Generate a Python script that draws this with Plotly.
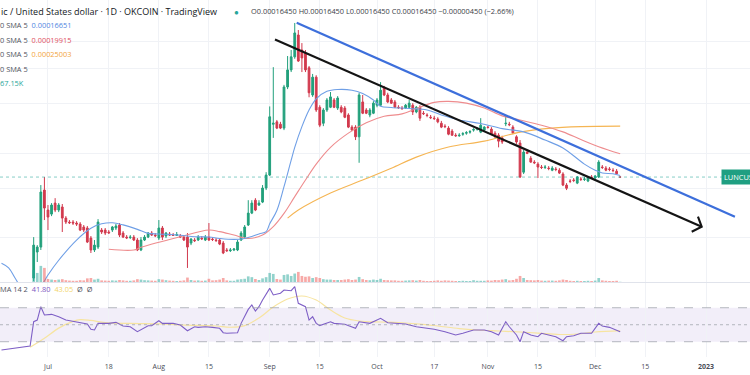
import plotly.graph_objects as go
import pandas as pd

UNIT = 1e-4  # price values below are written in units of 0.0001 USD
FONT = "Open Sans"

# ---------------- daily candles (2022-06-27 .. 2022-12-08) ----------------
candle_dates = pd.date_range("2022-06-27", "2022-12-08", freq="D").strftime("%Y-%m-%d").tolist()

opens = [
    0.717, 0.888, 0.925, 1.478,  # Jun 27-30
    1.254, 1.213, 1.328, 1.254, 1.286, 1.174, 1.136, 1.136, 1.127, 1.118,
    1.091, 1.082, 0.996, 0.903, 0.925, 1.064, 1.064, 1.047, 1.064, 1.082,
    1.109, 1.038, 1.004, 1.000, 1.004, 0.980, 0.903, 0.980, 1.004, 1.038, 1.021,  # Jul
    0.996, 1.082, 1.013, 1.030, 1.021, 1.018, 1.013, 1.004, 1.004, 0.956,
    0.980, 0.980, 0.996, 0.980, 1.004, 0.988, 0.980, 0.980, 0.956, 0.903,
    0.898, 0.903, 0.903, 0.980, 1.004, 1.109, 1.223, 1.360, 1.307, 1.339, 1.503,  # Aug
    1.672, 2.54, 2.59, 2.54, 2.46, 3.45, 3.97, 4.42, 5.29, 4.675,
    4.56, 4.04, 3.23, 3.74, 2.92, 2.56, 2.855, 2.92, 3.10, 2.90,
    2.92, 2.90, 2.74, 2.48, 2.48, 2.29, 3.05, 2.855, 2.74, 2.78,  # Sep
    2.97, 2.97, 3.42, 3.23, 3.10, 3.05, 2.92, 2.90, 2.90, 2.92,
    2.97, 2.81, 2.92, 2.78, 2.74, 2.69, 2.67, 2.65, 2.56, 2.50,
    2.46, 2.40, 2.32, 2.31, 2.34, 2.36, 2.38, 2.42, 2.44, 2.38, 2.42,  # Oct
    2.48, 2.44, 2.36, 2.32, 2.27, 2.55, 2.54, 2.48, 2.29, 2.175,
    1.712, 2.02, 1.92, 1.86, 1.83, 1.786, 1.78, 1.77, 1.74, 1.757,
    1.74, 1.686, 1.54, 1.592, 1.605, 1.565, 1.618, 1.614, 1.592, 1.645,  # Nov
    1.632, 1.645, 1.786, 1.77, 1.757, 1.74, 1.726, 1.645,  # Dec 1-8
]
highs = [
    1.004, 0.940, 1.54, 1.645,
    1.307, 1.328, 1.383, 1.328, 1.318, 1.193, 1.155, 1.155, 1.145, 1.136,
    1.109, 1.100, 1.013, 0.980, 1.164, 1.082, 1.082, 1.064, 1.100, 1.118,
    1.127, 1.055, 1.021, 1.021, 1.021, 0.996, 1.004, 1.021, 1.047, 1.055, 1.038,
    1.155, 1.100, 1.047, 1.047, 1.038, 1.047, 1.030, 1.021, 1.038, 0.996,
    0.996, 1.021, 1.013, 1.021, 1.127, 1.004, 0.996, 0.996, 0.972, 0.918,
    0.918, 0.918, 0.980, 1.055, 1.109, 1.360, 1.360, 1.383, 1.360, 1.540, 1.712,
    2.94, 4.06, 2.63, 2.59, 3.51, 4.45, 4.675, 5.84, 5.51, 4.95,
    4.675, 4.10, 3.84, 3.80, 2.97, 2.90, 3.15, 3.31, 3.15, 3.20,
    2.97, 2.95, 2.78, 2.52, 2.52, 3.29, 3.23, 2.90, 2.90, 3.07,
    3.15, 3.59, 3.48, 3.29, 3.15, 3.10, 2.97, 2.95, 3.00, 3.10,
    3.02, 2.95, 2.97, 2.83, 2.78, 2.74, 2.72, 2.69, 2.61, 2.54,
    2.50, 2.44, 2.36, 2.36, 2.38, 2.40, 2.42, 2.46, 2.48, 2.67, 2.50,
    2.50, 2.48, 2.40, 2.36, 2.31, 2.74, 2.59, 2.52, 2.32, 2.23,
    2.055, 2.055, 1.955, 1.89, 1.86, 1.816, 1.816, 1.80, 1.80, 1.786,
    1.77, 1.712, 1.565, 1.618, 1.632, 1.659, 1.645, 1.645, 1.659, 1.672,
    1.672, 1.89, 1.816, 1.80, 1.786, 1.77, 1.757, 1.645,
]
lows = [
    0.699, 0.818, 0.903, 1.155,
    1.064, 1.193, 1.233, 1.233, 1.047, 1.118, 1.118, 1.109, 1.100, 1.055,
    1.047, 0.956, 0.881, 0.888, 0.910, 1.030, 1.021, 1.030, 1.047, 1.064,
    1.004, 0.996, 0.988, 0.988, 0.972, 0.895, 0.895, 0.972, 0.996, 1.013, 1.004,
    0.980, 0.980, 0.996, 1.013, 1.013, 1.013, 0.996, 0.972, 0.779, 0.940,
    0.964, 0.972, 0.980, 0.972, 0.972, 0.972, 0.964, 0.940, 0.873, 0.888,
    0.888, 0.895, 0.895, 0.972, 0.996, 1.100, 1.213, 1.243, 1.297, 1.328, 1.478,
    1.659, 2.27, 2.44, 2.44, 2.42, 3.39, 3.90, 4.35, 4.24, 3.90,
    3.90, 3.17, 3.18, 2.81, 2.48, 2.50, 2.81, 2.90, 2.90, 2.855,
    2.78, 2.67, 2.46, 2.40, 2.23, 1.85, 2.76, 2.76, 2.69, 2.76,
    2.92, 2.95, 3.20, 3.02, 3.00, 2.90, 2.88, 2.855, 2.88, 2.90,
    2.74, 2.78, 2.61, 2.74, 2.69, 2.65, 2.63, 2.56, 2.46, 2.46,
    2.32, 2.31, 2.29, 2.29, 2.31, 2.33, 2.35, 2.39, 2.41, 2.36, 2.40,
    2.45, 2.32, 2.27, 2.10, 2.16, 2.50, 2.50, 2.34, 2.16, 1.632,
    1.686, 1.986, 1.85, 1.83, 1.632, 1.757, 1.757, 1.74, 1.726, 1.726,
    1.686, 1.527, 1.478, 1.565, 1.578, 1.552, 1.592, 1.592, 1.578, 1.618,
    1.618, 1.632, 1.757, 1.726, 1.726, 1.712, 1.686, 1.645,
]
closes = [
    0.940, 0.925, 1.454, 1.275,
    1.184, 1.307, 1.254, 1.307, 1.174, 1.136, 1.130, 1.127, 1.118, 1.064,
    1.064, 0.964, 0.903, 0.940, 1.136, 1.047, 1.038, 1.040, 1.091, 1.100,
    1.021, 1.004, 0.998, 1.004, 0.980, 0.903, 0.980, 1.004, 1.038, 1.021, 1.015,
    1.082, 1.004, 1.038, 1.021, 1.018, 1.025, 1.004, 0.980, 0.925, 0.988,
    0.975, 1.004, 0.990, 1.004, 0.980, 0.984, 0.976, 0.948, 0.881, 0.898,
    0.903, 0.910, 0.964, 1.038, 1.091, 1.223, 1.328, 1.254, 1.328, 1.503, 1.672,
    2.70, 2.56, 2.46, 2.46, 3.45, 3.97, 4.42, 5.38, 4.27, 4.38,
    3.97, 3.29, 3.74, 2.855, 2.52, 2.855, 3.10, 3.18, 2.92, 3.15,
    2.81, 2.69, 2.48, 2.42, 2.29, 3.23, 2.78, 2.78, 2.855, 3.02,
    3.10, 3.36, 3.23, 3.05, 3.02, 2.92, 2.91, 2.89, 2.97, 3.02,
    2.81, 2.92, 2.67, 2.77, 2.73, 2.68, 2.66, 2.59, 2.48, 2.49,
    2.34, 2.32, 2.31, 2.32, 2.35, 2.37, 2.39, 2.43, 2.445, 2.52, 2.48,
    2.475, 2.34, 2.29, 2.21, 2.195, 2.56, 2.53, 2.36, 2.195, 1.645,
    2.02, 2.00, 1.86, 1.85, 1.786, 1.78, 1.786, 1.765, 1.77, 1.75,
    1.70, 1.54, 1.50, 1.588, 1.60, 1.645, 1.614, 1.618, 1.645, 1.64,
    1.659, 1.86, 1.78, 1.74, 1.752, 1.735, 1.69, 1.645,
]
volumes = [
    60, 45, 80, 70,
    15, 12, 10, 12, 14, 9, 7, 6, 6, 9, 8, 18, 20, 12, 16, 8, 7, 6, 8, 7, 10, 8, 6, 6, 8, 14, 12, 9, 8, 7, 6,
    14, 12, 9, 7, 6, 5, 6, 8, 22, 10, 7, 8, 6, 7, 16, 8, 9, 12, 20, 8, 6, 6, 12, 14, 16, 28, 24, 15, 10, 18, 24,
    45, 40, 15, 12, 35, 38, 30, 42, 50, 30, 26, 28, 20, 24, 20, 14, 12, 12, 10, 10, 10, 12, 14, 10, 12, 25, 14, 10, 9, 12,
    10, 16, 10, 9, 8, 8, 6, 6, 7, 8, 9, 7, 10, 6, 5, 5, 6, 8, 6, 8, 7, 6, 5, 5, 6, 5, 5, 9, 6, 6, 6,
    8, 7, 10, 9, 12, 14, 8, 10, 16, 30, 20, 10, 9, 8, 10, 7, 6, 7, 7, 6, 8, 12, 10, 6, 5, 6, 5, 5, 6, 5,
    7, 20, 8, 6, 5, 5, 6, 1,
]
for arr in (opens, highs, lows, closes, volumes):
    assert len(arr) == len(candle_dates), len(arr)

# ---------------- moving averages ----------------
sma_blue_dates = ["2022-06-18", "2022-06-20", "2022-06-22", "2022-06-26", "2022-06-30", "2022-07-01", "2022-07-04",
                  "2022-07-09", "2022-07-13", "2022-07-16", "2022-07-19", "2022-07-22", "2022-07-26", "2022-07-29",
                  "2022-08-01", "2022-08-07", "2022-08-11", "2022-08-15", "2022-08-18", "2022-08-22", "2022-08-25",
                  "2022-08-29", "2022-08-31", "2022-09-01", "2022-09-03", "2022-09-05", "2022-09-07", "2022-09-08",
                  "2022-09-10", "2022-09-12", "2022-09-14", "2022-09-17", "2022-09-20", "2022-09-24", "2022-09-27",
                  "2022-09-30", "2022-10-02", "2022-10-05", "2022-10-10", "2022-10-15", "2022-10-19", "2022-10-24",
                  "2022-10-30", "2022-11-05", "2022-11-11", "2022-11-17", "2022-11-22", "2022-11-28", "2022-12-01",
                  "2022-12-03", "2022-12-06", "2022-12-08"]
sma_blue = [0.81, 0.78, 0.71, 0.60, 0.70, 0.735, 0.83, 0.98, 1.08, 1.12, 1.13, 1.11, 1.07, 1.035, 1.03, 1.02,
            1.007, 1.005, 0.993, 0.985, 0.993, 1.03, 1.05, 1.12, 1.25, 1.52, 1.89, 2.10, 2.49, 2.855, 3.13, 3.33,
            3.38, 3.36, 3.27, 3.10, 2.945, 2.915, 2.89, 2.855, 2.74, 2.63, 2.555, 2.45, 2.385, 2.23, 2.09, 1.83,
            1.74, 1.70, 1.69, 1.6651]

sma_red_dates = ["2022-07-18", "2022-07-25", "2022-07-27", "2022-08-07", "2022-08-15", "2022-08-18", "2022-08-22",
                 "2022-08-26", "2022-08-30", "2022-09-02", "2022-09-05", "2022-09-08", "2022-09-11", "2022-09-14",
                 "2022-09-18", "2022-09-23", "2022-09-28", "2022-10-03", "2022-10-08", "2022-10-12", "2022-10-17",
                 "2022-10-21", "2022-10-26", "2022-10-31", "2022-11-05", "2022-11-10", "2022-11-16", "2022-11-22",
                 "2022-11-27", "2022-12-02", "2022-12-08"]
sma_red = [0.908, 0.903, 0.923, 1.007, 1.064, 1.05, 1.021, 0.993, 1.021, 1.094, 1.22, 1.40, 1.605, 1.83, 2.10,
           2.36, 2.57, 2.71, 2.765, 2.89, 3.04, 3.065, 3.02, 2.90, 2.72, 2.63, 2.52, 2.385, 2.24, 2.11, 1.9915]

sma_orange_dates = ["2022-09-06", "2022-09-09", "2022-09-18", "2022-09-27", "2022-10-05", "2022-10-12",
                    "2022-10-21", "2022-10-31", "2022-11-10", "2022-11-18", "2022-11-27", "2022-12-08"]
sma_orange = [1.173, 1.254, 1.442, 1.605, 1.769, 1.938, 2.105, 2.21, 2.38, 2.455, 2.49, 2.5003]

# ---------------- drawn trend lines ----------------
trend_blue_dates = ["2022-09-08 13:00", "2023-01-09 02:00"]
trend_blue = [5.85, 1.187]
trend_black_dates = ["2022-09-02 11:30", "2022-12-30 19:00"]
trend_black = [5.10, 1.093]
arrow_dates = ["2022-12-29 18:00", "2022-12-30 19:00", "2022-12-28 00:00"]
arrow_prices = [1.187, 1.093, 1.049]

last_price = 1.645

# ---------------- RSI pane ----------------
rsi_dates = ["2022-06-18", "2022-06-22", "2022-06-26", "2022-06-27", "2022-06-28", "2022-06-29", "2022-06-30",
             "2022-07-02", "2022-07-04", "2022-07-06", "2022-07-09", "2022-07-12", "2022-07-13", "2022-07-14",
             "2022-07-15", "2022-07-18", "2022-07-20", "2022-07-22", "2022-07-24", "2022-07-26", "2022-07-29",
             "2022-07-30", "2022-08-01", "2022-08-02", "2022-08-05", "2022-08-07", "2022-08-09", "2022-08-11",
             "2022-08-12", "2022-08-14", "2022-08-16", "2022-08-18", "2022-08-19", "2022-08-20", "2022-08-23",
             "2022-08-24", "2022-08-26", "2022-08-27", "2022-08-28", "2022-08-29", "2022-08-30", "2022-09-01",
             "2022-09-02", "2022-09-04", "2022-09-05", "2022-09-07", "2022-09-08", "2022-09-09", "2022-09-11",
             "2022-09-12", "2022-09-13", "2022-09-14", "2022-09-15", "2022-09-18", "2022-09-19", "2022-09-22",
             "2022-09-25", "2022-09-26", "2022-09-29", "2022-10-02", "2022-10-04", "2022-10-07", "2022-10-09",
             "2022-10-12", "2022-10-15", "2022-10-17", "2022-10-20", "2022-10-23", "2022-10-25", "2022-10-28",
             "2022-10-31", "2022-11-02", "2022-11-04", "2022-11-06", "2022-11-07", "2022-11-09", "2022-11-10",
             "2022-11-11", "2022-11-13", "2022-11-15", "2022-11-16", "2022-11-18", "2022-11-20", "2022-11-22",
             "2022-11-23", "2022-11-25", "2022-11-27", "2022-11-30", "2022-12-02", "2022-12-03", "2022-12-05",
             "2022-12-08"]
rsi = [20.2, 22.5, 24.9, 53.5, 55.5, 71.2, 61.4, 62.2, 59.4, 55.5, 53.5, 50.8, 44.6, 43.8, 51.6, 51.6, 52.8,
       48.5, 47.6, 41.8, 48.8, 48.8, 54.7, 51.6, 51.6, 49.6, 42.9, 47.6, 46.9, 47.6, 46.9, 45.8, 40.6, 39.9,
       40.5, 51.6, 68.0, 73.2, 66.0, 71.2, 79.0, 92.8, 85.0, 87.0, 90.8, 90.0, 94.7, 75.2, 71.2, 55.5, 59.4,
       51.6, 49.0, 53.5, 51.6, 50.5, 45.8, 53.5, 51.6, 57.5, 52.4, 51.6, 50.8, 47.6, 45.8, 44.6, 41.8, 37.9,
       39.9, 43.8, 43.8, 41.8, 37.9, 53.5, 47.6, 37.9, 30.0, 41.8, 37.9, 35.9, 39.9, 37.9, 35.9, 31.2, 35.9,
       37.1, 39.9, 39.9, 51.6, 48.5, 46.9, 41.8]
rsi_ma_dates = ["2022-06-26", "2022-06-30", "2022-07-04", "2022-07-08", "2022-07-10", "2022-07-13", "2022-07-17",
                "2022-07-24", "2022-08-01", "2022-08-09", "2022-08-17", "2022-08-21", "2022-08-25", "2022-08-29",
                "2022-09-02", "2022-09-06", "2022-09-10", "2022-09-14", "2022-09-18", "2022-09-22", "2022-09-26",
                "2022-10-02", "2022-10-07", "2022-10-13", "2022-10-18", "2022-10-24", "2022-10-29", "2022-11-04",
                "2022-11-10", "2022-11-15", "2022-11-21", "2022-11-26", "2022-12-01", "2022-12-08"]
rsi_ma = [23.4, 34.0, 46.0, 54.0, 56.0, 55.0, 52.5, 51.5, 51.0, 49.6, 48.5, 47.0, 49.0, 57.9, 70.8, 80.2, 83.8,
          79.0, 67.3, 57.9, 54.4, 53.2, 52.6, 50.8, 48.5, 45.5, 43.8, 42.6, 41.4, 40.2, 38.5, 39.1, 41.4, 43.05]
rsi_levels = [70, 50, 30]

tick_dates = ["2022-07-01", "2022-07-18", "2022-08-01", "2022-08-15", "2022-09-01", "2022-09-15", "2022-10-01",
              "2022-10-17", "2022-11-01", "2022-11-15", "2022-12-01", "2022-12-15", "2023-01-01"]
tick_text = ["Jul", "18", "Aug", "15", "Sep", "15", "Oct", "17", "Nov", "15", "Dec", "15", "<b>2023</b>"]

# ---------------- styling ----------------
GREEN = "#22a07c"
RED = "#d23a4e"
X_RANGE = ["2022-06-17 14:00", "2023-01-13 07:12"]
W, H, B = 750, 375, 18
PLOT_H = H - B


def ty(py):
    return (PLOT_H - py) / PLOT_H


def tx(px):
    return px / W


def p(vals):
    return [v * UNIT for v in vals]


fig = go.Figure()

vol_colors = ["rgba(38,166,154,0.5)" if c >= o else "rgba(239,83,80,0.5)" for o, c in zip(opens, closes)]
fig.add_trace(go.Bar(x=candle_dates, y=volumes, marker_color=vol_colors, marker_line_width=0,
                     xaxis="x", yaxis="y3", hoverinfo="skip"))

fig.add_trace(go.Scatter(x=X_RANGE, y=p([last_price, last_price]), mode="lines",
                         line=dict(color="rgba(38,166,154,0.55)", width=1, dash="dot"), xaxis="x", yaxis="y"))

fig.add_trace(go.Scatter(x=sma_orange_dates, y=p(sma_orange), mode="lines", line=dict(color="#f5b553", width=1.1, shape="spline"),
                         xaxis="x", yaxis="y"))
fig.add_trace(go.Scatter(x=sma_red_dates, y=p(sma_red), mode="lines", line=dict(color="#ee8c8e", width=1.1, shape="spline"),
                         xaxis="x", yaxis="y"))
fig.add_trace(go.Scatter(x=sma_blue_dates, y=p(sma_blue), mode="lines", line=dict(color="#6f9fe6", width=1.1, shape="spline"),
                         xaxis="x", yaxis="y"))

fig.add_trace(go.Candlestick(
    x=candle_dates, open=p(opens), high=p(highs), low=p(lows), close=p(closes),
    increasing=dict(line=dict(color=GREEN, width=1), fillcolor=GREEN),
    decreasing=dict(line=dict(color=RED, width=1), fillcolor=RED),
    whiskerwidth=0, xaxis="x", yaxis="y"))

fig.add_trace(go.Scatter(x=trend_blue_dates, y=p(trend_blue), mode="lines",
                         line=dict(color="#3d6fdb", width=2.2), xaxis="x", yaxis="y"))
fig.add_trace(go.Scatter(x=trend_black_dates, y=p(trend_black), mode="lines",
                         line=dict(color="#141414", width=2.1), xaxis="x", yaxis="y"))
fig.add_trace(go.Scatter(x=arrow_dates, y=p(arrow_prices), mode="lines",
                         line=dict(color="#141414", width=2.1), xaxis="x", yaxis="y"))

# RSI pane
fig.add_trace(go.Scatter(x=rsi_ma_dates, y=rsi_ma, mode="lines", line=dict(color="#f7e4a0", width=1.2, shape="spline"),
                         xaxis="x2", yaxis="y2"))
fig.add_trace(go.Scatter(x=rsi_dates, y=rsi, mode="lines", line=dict(color="#7e5fc6", width=1.1),
                         xaxis="x2", yaxis="y2"))

shapes = [
    dict(type="rect", xref="paper", yref="y2", x0=0, x1=1, y0=rsi_levels[2], y1=rsi_levels[0],
         fillcolor="rgba(126,87,194,0.10)", line=dict(width=0), layer="below"),
    dict(type="line", xref="paper", yref="paper", x0=0, x1=1, y0=ty(282.5), y1=ty(282.5),
         line=dict(color="#e0e3eb", width=1)),
]
for lvl, dash in zip(rsi_levels, ["dash", "dot", "dash"]):
    shapes.append(dict(type="line", xref="paper", yref="y2", x0=0, x1=1, y0=lvl, y1=lvl,
                       line=dict(color="#a3a6af", width=0.8, dash=dash)))

ann = []


def add_text(x, y, text, size, color="#131722", **kw):
    d = dict(x=tx(x), y=ty(y), xref="paper", yref="paper", text=text, showarrow=False,
             xanchor="left", yanchor="middle", font=dict(size=size, color=color, family=FONT))
    d.update(kw)
    ann.append(d)


add_text(-1, 11.5, "ic / United States dollar · 1D · OKCOIN · TradingView", 9, "#131722")
add_text(232, 11.5, "●", 8, "#26a69a")
add_text(249, 11.5, "O0.00016450 H0.00016450 L0.00016450 C0.00016450 −0.00000450 (−2.66%)", 7.4, "#3b3e47")
add_text(-2, 25, "0 SMA 5  <span style='color:#4f86df'>0.00016651</span>", 7.4, "#50535e")
add_text(-2, 39.5, "0 SMA 5  <span style='color:#e04f5f'>0.00019915</span>", 7.4, "#50535e")
add_text(-2, 54, "0 SMA 5  <span style='color:#f2a43c'>0.00025003</span>", 7.4, "#50535e")
add_text(-2, 68.5, "0 SMA 5", 7.4, "#50535e")
add_text(-2, 83, "<span style='color:#26a69a'>67.15K</span>", 7.4, "#26a69a")
add_text(-2, 288.5, "MA 14 2  <span style='color:#7e57c2'>41.80</span>  <span style='color:#f2d56a'>43.05</span>  Ø  Ø",
         7.4, "#50535e")
add_text(721, 177, "LUNCUSD", 7.4, "#ffffff", bgcolor="#1f9f82", borderpad=2)

GRID = "#f0f2f6"
fig.update_layout(
    width=W, height=H, margin=dict(l=0, r=0, t=0, b=B),
    paper_bgcolor="white", plot_bgcolor="white", showlegend=False, hovermode=False,
    font=dict(family=FONT, size=7, color="#4a4d57"),
    xaxis=dict(domain=[0, 1], anchor="y", type="date", range=X_RANGE, rangeslider=dict(visible=False),
               tickvals=tick_dates, showticklabels=False, showgrid=True, gridcolor=GRID, gridwidth=1,
               zeroline=False, showline=False, ticks=""),
    xaxis2=dict(domain=[0, 1], anchor="y2", type="date", range=X_RANGE, matches="x",
                tickvals=tick_dates, ticktext=tick_text, showgrid=True, gridcolor=GRID, gridwidth=1,
                zeroline=False, showline=False, ticks="outside", ticklen=3, tickcolor="rgba(0,0,0,0)",
                tickfont=dict(size=7, color="#4a4d57", family=FONT)),
    yaxis=dict(domain=[ty(282), 1], anchor="x", type="log", range=[-4.1586, -3.1516],
               tickvals=[0.0001, 0.00015, 0.0002, 0.0003, 0.0004, 0.0005], showticklabels=False,
               showgrid=True, gridcolor=GRID, zeroline=False, showline=False, ticks=""),
    yaxis3=dict(domain=[ty(282), 1], anchor="x", overlaying="y", range=[0, 1400], visible=False),
    yaxis2=dict(domain=[0, ty(283)], anchor="x2", range=[12, 99.1], showticklabels=False, showgrid=False,
                zeroline=False, showline=False, ticks=""),
    shapes=shapes, annotations=ann, bargap=0.25,
)

fig.write_html("out.html", config={"displayModeBar": False, "staticPlot": True},
               post_script="document.body.style.margin='0';document.body.style.overflow='hidden';")
